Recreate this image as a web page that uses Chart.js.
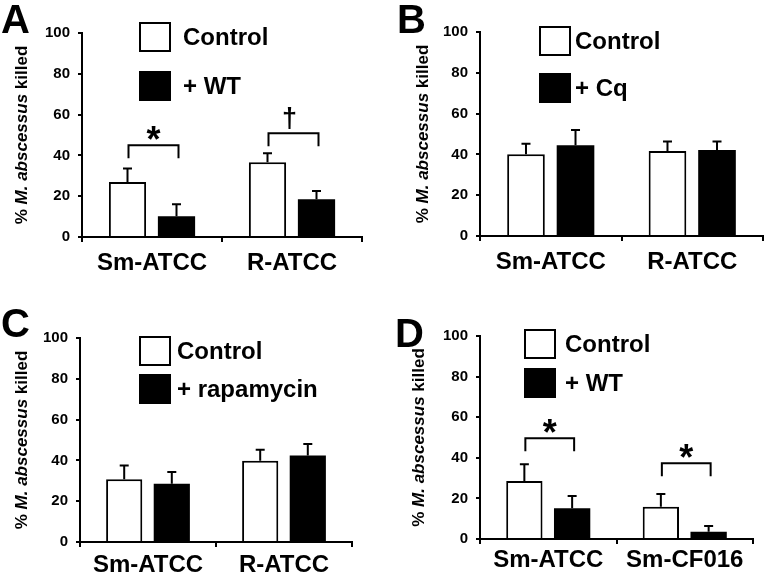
<!DOCTYPE html>
<html>
<head>
<meta charset="utf-8">
<title>M. abscessus killed</title>
<script src="https://cdn.jsdelivr.net/npm/chart.js@4.4.0/dist/chart.umd.min.js"></script>
<style>
    html, body { margin: 0; padding: 0; background: #fff; }
    #figure { position: relative; width: 766px; height: 574px; overflow: hidden; }
    .panel { position: absolute; width: 383px; height: 287px; }
</style>
</head>
<body>
<div id="figure">
    <div class="panel" style="left:0;top:0"><canvas id="chartA" width="383" height="287"></canvas></div>
    <div class="panel" style="left:383px;top:0"><canvas id="chartB" width="383" height="287"></canvas></div>
    <div class="panel" style="left:0;top:287px"><canvas id="chartC" width="383" height="287"></canvas></div>
    <div class="panel" style="left:383px;top:287px"><canvas id="chartD" width="383" height="287"></canvas></div>
</div>
<script>
// --- DADOS ---
const yTicks = [0, 20, 40, 60, 80, 100];

const categoriesA = ['Sm-ATCC', 'R-ATCC'];
const controlA = [27.0, 36.6];
const controlErrA = [6.6, 4.4];
const treatedA = [10.2, 18.5];
const treatedErrA = [5.9, 4.1];
const bracketLevelsA = [45, 50.8];
const bracketMarksA = ['*', '\u2020'];

const categoriesB = ['Sm-ATCC', 'R-ATCC'];
const controlB = [40.1, 41.7];
const controlErrB = [5.1, 4.6];
const treatedB = [44.5, 42.2];
const treatedErrB = [7.5, 4.1];

const categoriesC = ['Sm-ATCC', 'R-ATCC'];
const controlC = [30.8, 39.8];
const controlErrC = [6.7, 5.4];
const treatedC = [28.5, 42.4];
const treatedErrC = [5.8, 5.7];

const categoriesD = ['Sm-ATCC', 'Sm-CF016'];
const controlD = [28.6, 15.9];
const controlErrD = [8.2, 6.3];
const treatedD = [15.1, 3.6];
const treatedErrD = [6.1, 2.8];
const bracketLevelsD = [49.6, 37.3];
const bracketMarksD = ['*', '*'];

const FONT = '"Liberation Sans", Arial, Helvetica, sans-serif';
const PANEL_W = 383;
const PANEL_H = 287;

// --- CONFIGURAÇÃO DOS PAINÉIS (só layout) ---
const panels = [
    {
        id: 'chartA', letter: 'A', letterPos: { x: 1, y: 33 },
        categories: categoriesA, control: controlA, controlErr: controlErrA,
        treated: treatedA, treatedErr: treatedErrA, treatedLabel: '+ WT',
        bracketLevels: bracketLevelsA, bracketMarks: bracketMarksA,
        area: { left: 82, top: 33, right: 362, bottom: 237 }, labelPad: 7,
        legend: { x: 140, y: 23, gap: 49, textX: 183 },
        titleX: 22
    },
    {
        id: 'chartB', letter: 'B', letterPos: { x: 14, y: 33 },
        categories: categoriesB, control: controlB, controlErr: controlErrB,
        treated: treatedB, treatedErr: treatedErrB, treatedLabel: '+ Cq',
        bracketLevels: [], bracketMarks: [],
        area: { left: 97, top: 32, right: 380, bottom: 236 }, labelPad: 7,
        legend: { x: 157, y: 27, gap: 47, textX: 192 },
        titleX: 40
    },
    {
        id: 'chartC', letter: 'C', letterPos: { x: 1, y: 50 },
        categories: categoriesC, control: controlC, controlErr: controlErrC,
        treated: treatedC, treatedErr: treatedErrC, treatedLabel: '+ rapamycin',
        bracketLevels: [], bracketMarks: [],
        area: { left: 80, top: 51, right: 352, bottom: 255 }, labelPad: 4,
        legend: { x: 140, y: 50, gap: 38, textX: 177 },
        titleX: 22
    },
    {
        id: 'chartD', letter: 'D', letterPos: { x: 12, y: 60 },
        categories: categoriesD, control: controlD, controlErr: controlErrD,
        treated: treatedD, treatedErr: treatedErrD, treatedLabel: '+ WT',
        bracketLevels: bracketLevelsD, bracketMarks: bracketMarksD,
        area: { left: 97, top: 49, right: 370, bottom: 252 }, labelPad: 2,
        legend: { x: 142, y: 43, gap: 39, textX: 182 },
        titleX: 36
    }
];

// --- PLUGIN: barras de erro, chavetas, legenda, título do eixo Y e letra ---
function makeExtras(p) {
    return {
        id: 'figureExtras',
        afterDatasetsDraw(chart) {
            const ctx = chart.ctx;
            const yScale = chart.scales.y;
            ctx.save();
            ctx.strokeStyle = '#000';
            ctx.lineWidth = 2;

            // barras de erro (só para cima)
            [p.controlErr, p.treatedErr].forEach((errs, di) => {
                const meta = chart.getDatasetMeta(di);
                meta.data.forEach((bar, j) => {
                    const value = chart.data.datasets[di].data[j];
                    const yTop = yScale.getPixelForValue(value + errs[j]);
                    ctx.beginPath();
                    ctx.moveTo(bar.x, bar.y);
                    ctx.lineTo(bar.x, yTop);
                    ctx.moveTo(bar.x - 4.5, yTop);
                    ctx.lineTo(bar.x + 4.5, yTop);
                    ctx.stroke();
                });
            });

            // chavetas de significância
            p.bracketLevels.forEach((level, j) => {
                const x1 = chart.getDatasetMeta(0).data[j].x + 1;
                const x2 = chart.getDatasetMeta(1).data[j].x + 2;
                const yb = yScale.getPixelForValue(level);
                ctx.beginPath();
                ctx.moveTo(x1, yb + 13);
                ctx.lineTo(x1, yb);
                ctx.lineTo(x2, yb);
                ctx.lineTo(x2, yb + 13);
                ctx.stroke();

                const mark = p.bracketMarks[j];
                const isDagger = mark !== '*';
                ctx.font = 'bold ' + (isDagger ? 27 : 36) + 'px ' + FONT;
                ctx.fillStyle = '#000';
                ctx.textAlign = 'center';
                ctx.textBaseline = 'alphabetic';
                const m = ctx.measureText(mark);
                const cy = yb - (isDagger ? 15 : 12);
                const base = cy + (m.actualBoundingBoxAscent - m.actualBoundingBoxDescent) / 2;
                ctx.fillText(mark, (x1 + x2) / 2 - (isDagger ? 4 : 0), base);
            });
            ctx.restore();
        },
        afterDraw(chart) {
            const ctx = chart.ctx;
            ctx.save();

            // legenda
            const lg = p.legend;
            const items = [
                { label: chart.data.datasets[0].label, fill: '#fff' },
                { label: chart.data.datasets[1].label, fill: '#000' }
            ];
            items.forEach((item, i) => {
                const by = lg.y + i * lg.gap;
                ctx.fillStyle = item.fill;
                ctx.fillRect(lg.x, by, 30, 28);
                ctx.strokeStyle = '#000';
                ctx.lineWidth = 2;
                ctx.strokeRect(lg.x, by, 30, 28);
                ctx.fillStyle = '#000';
                ctx.font = 'bold 24px ' + FONT;
                ctx.textAlign = 'left';
                ctx.textBaseline = 'middle';
                ctx.fillText(item.label, lg.textX, by + 15);
            });

            // título do eixo Y (com itálico parcial)
            const parts = [['% ', 'bold'], ['M. abscessus', 'italic bold'], [' killed', 'bold']];
            const cy = (chart.chartArea.top + chart.chartArea.bottom) / 2;
            ctx.translate(p.titleX, cy);
            ctx.rotate(-Math.PI / 2);
            let total = 0;
            parts.forEach(([t, s]) => {
                ctx.font = s + ' 17px ' + FONT;
                total += ctx.measureText(t).width;
            });
            let x = -total / 2;
            ctx.textAlign = 'left';
            ctx.textBaseline = 'middle';
            parts.forEach(([t, s]) => {
                ctx.font = s + ' 17px ' + FONT;
                ctx.fillText(t, x, 0);
                x += ctx.measureText(t).width;
            });
            ctx.setTransform(1, 0, 0, 1, 0, 0);
            ctx.restore();

            // letra do painel
            ctx.save();
            ctx.fillStyle = '#000';
            ctx.font = 'bold 40px ' + FONT;
            ctx.textAlign = 'left';
            ctx.textBaseline = 'alphabetic';
            ctx.fillText(p.letter, p.letterPos.x, p.letterPos.y);
            ctx.restore();
        }
    };
}

// --- CRIAÇÃO DOS GRÁFICOS ---
function criarPainel(p) {
    const ctx = document.getElementById(p.id).getContext('2d');
    return new Chart(ctx, {
        type: 'bar',
        data: {
            labels: p.categories,
            datasets: [
                {
                    label: 'Control', data: p.control,
                    backgroundColor: '#fff', borderColor: '#000', borderWidth: 2, borderSkipped: 'bottom',
                    categoryPercentage: 0.7, barPercentage: 0.76
                },
                {
                    label: p.treatedLabel, data: p.treated,
                    backgroundColor: '#000', borderColor: '#000', borderWidth: 0,
                    categoryPercentage: 0.7, barPercentage: 0.76
                }
            ]
        },
        options: {
            responsive: false,
            animation: false,
            devicePixelRatio: 1,
            layout: { padding: { left: 0, top: p.area.top, right: PANEL_W - p.area.right, bottom: 0 } },
            plugins: { legend: { display: false }, tooltip: { enabled: false } },
            scales: {
                x: {
                    grid: { drawOnChartArea: false, offset: true, tickLength: 5, color: '#000', lineWidth: 2 },
                    border: { color: '#000', width: 2, z: 1 },
                    ticks: { color: '#000', padding: p.labelPad, font: { family: FONT, size: 24, weight: 'bold' } },
                    afterFit: (s) => { s.height = PANEL_H - p.area.bottom; }
                },
                y: {
                    min: 0, max: 100,
                    afterBuildTicks: (s) => { s.ticks = yTicks.map(v => ({ value: v })); },
                    grid: { drawOnChartArea: false, tickLength: 4, color: '#000', lineWidth: 2 },
                    border: { color: '#000', width: 2 },
                    ticks: { color: '#000', padding: 8, font: { family: FONT, size: 15, weight: 'bold' } },
                    afterFit: (s) => { s.width = p.area.left; }
                }
            }
        },
        plugins: [makeExtras(p)]
    });
}

panels.forEach(criarPainel);
</script>
</body>
</html>
